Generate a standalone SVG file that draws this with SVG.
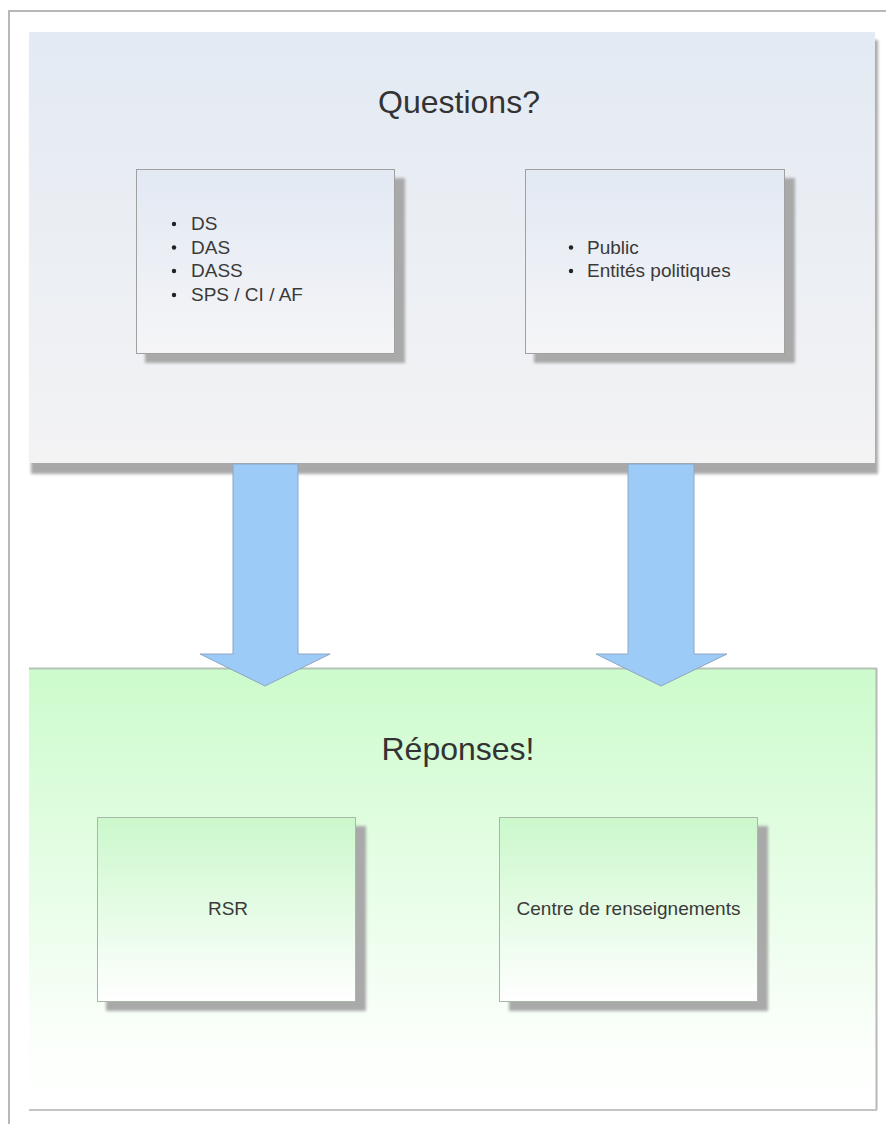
<svg xmlns="http://www.w3.org/2000/svg" width="886" height="1124" viewBox="0 0 886 1124">
  <defs>
    <linearGradient id="gBluePanel" x1="0" y1="0" x2="0" y2="1">
      <stop offset="0" stop-color="#e3eaf3"/>
      <stop offset="1" stop-color="#f3f3f4"/>
    </linearGradient>
    <linearGradient id="gBlueBox" x1="0" y1="0" x2="0" y2="1">
      <stop offset="0" stop-color="#e2e9f3"/>
      <stop offset="1" stop-color="#f5f5f7"/>
    </linearGradient>
    <linearGradient id="gGreenPanel" x1="0" y1="0" x2="0" y2="1">
      <stop offset="0" stop-color="#ccfbcc"/>
      <stop offset="0.85" stop-color="#fbfffb"/>
      <stop offset="1" stop-color="#ffffff"/>
    </linearGradient>
    <linearGradient id="gGreenBox" x1="0" y1="0" x2="0" y2="1">
      <stop offset="0" stop-color="#cbf8cb"/>
      <stop offset="1" stop-color="#ffffff"/>
    </linearGradient>
    <filter id="blur" x="-10%" y="-10%" width="120%" height="120%">
      <feGaussianBlur stdDeviation="1.5"/>
    </filter>
    <style>
      .frame { stroke: #b8b8b8; stroke-width: 2; fill: none; }
      .shadow { fill: #a9a9a9; filter: url(#blur); }
      .box { stroke: #a0a0a0; stroke-width: 1; }
      .gbox { stroke: #a8b8a8; stroke-width: 1; }
      .title { font-family: "Liberation Sans", Arial, sans-serif; font-size: 32px; fill: #333333; text-anchor: middle; }
      .item { font-family: "Liberation Sans", Arial, sans-serif; font-size: 19px; fill: #3a3a3a; }
      .label { font-family: "Liberation Sans", Arial, sans-serif; font-size: 19px; fill: #3a3a3a; text-anchor: middle; }
      .bullet { fill: #222222; }
      .arrow { fill: #9ccbf8; stroke: #8ea6c0; stroke-width: 1; }
    </style>
  </defs>

  <rect width="886" height="1124" fill="#ffffff"/>

  <!-- outer frame -->
  <g id="frame">
    <line class="frame" x1="8" y1="11" x2="886" y2="11" stroke="#d4d4d4"/>
    <line class="frame" x1="9" y1="11" x2="9" y2="1124"/>
  </g>

  <!-- Questions panel -->
  <g id="questions">
    <rect class="shadow" x="31" y="40" width="847" height="434"/>
    <rect x="29" y="32" width="846" height="431" fill="url(#gBluePanel)"/>
    <text class="title" x="459" y="113">Questions?</text>
  </g>

  <g id="box-internal">
    <rect class="shadow" x="145" y="178" width="260" height="185"/>
    <rect class="box" x="136.5" y="169.5" width="258" height="184" fill="url(#gBlueBox)"/>
    <circle class="bullet" cx="174" cy="224" r="2.2"/>
    <circle class="bullet" cx="174" cy="247.5" r="2.2"/>
    <circle class="bullet" cx="174" cy="271" r="2.2"/>
    <circle class="bullet" cx="174" cy="295" r="2.2"/>
    <text class="item" x="191" y="230">DS</text>
    <text class="item" x="191" y="253.5">DAS</text>
    <text class="item" x="191" y="277">DASS</text>
    <text class="item" x="191" y="301">SPS / CI / AF</text>
  </g>

  <g id="box-external">
    <rect class="shadow" x="534" y="178" width="261" height="185"/>
    <rect class="box" x="525.5" y="169.5" width="259" height="184" fill="url(#gBlueBox)"/>
    <circle class="bullet" cx="571" cy="247.5" r="2.2"/>
    <circle class="bullet" cx="571" cy="271" r="2.2"/>
    <text class="item" x="587" y="253.5">Public</text>
    <text class="item" x="587" y="277">Entités politiques</text>
  </g>

  <!-- Réponses panel -->
  <g id="reponses">
    <rect x="29" y="668" width="848" height="442" fill="url(#gGreenPanel)"/>
    <line x1="29" y1="668.5" x2="877" y2="668.5" stroke="#b5c4b5" stroke-width="2"/>
    <line x1="876.5" y1="668" x2="876.5" y2="1110" stroke="#b8b8b8" stroke-width="2"/>
    <line x1="29" y1="1110" x2="877" y2="1110" stroke="#c4c4c4" stroke-width="2"/>
    <text class="title" x="458" y="760">Réponses!</text>
  </g>

  <g id="box-rsr">
    <rect class="shadow" x="106" y="826" width="260" height="185"/>
    <rect class="gbox" x="97.5" y="817.5" width="258" height="184" fill="url(#gGreenBox)"/>
    <text class="label" x="228" y="915">RSR</text>
  </g>

  <g id="box-centre">
    <rect class="shadow" x="509" y="826" width="259" height="185"/>
    <rect class="gbox" x="499.5" y="817.5" width="258" height="184" fill="url(#gGreenBox)"/>
    <text class="label" x="628.5" y="915">Centre de renseignements</text>
  </g>

  <!-- connectors -->
  <g id="connectors">
    <path class="arrow" d="M233,464 L298,464 L298,654 L330,654 L265,686 L200,654 L233,654 Z"/>
    <path class="arrow" d="M628,464 L694,464 L694,654 L727,654 L661,686 L596,654 L628,654 Z"/>
  </g>
</svg>
